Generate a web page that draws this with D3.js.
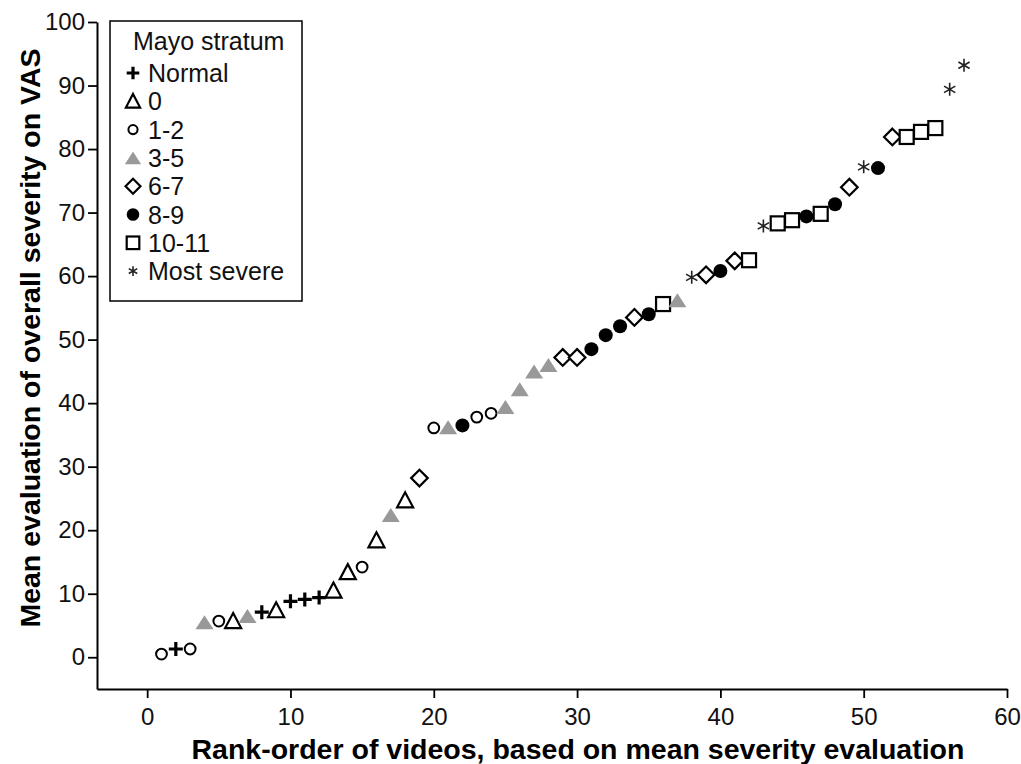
<!DOCTYPE html>
<html>
<head>
<meta charset="utf-8">
<script src="https://cdn.jsdelivr.net/npm/d3@7"></script>
<style>
  body { margin: 0; background: #fff; }
  svg { font-family: "Liberation Sans", Arial, sans-serif; }
</style>
</head>
<body>
<svg id="chart" width="1021" height="764"></svg>
<script>
// rank order of the videos and their mean VAS score
const ranks = d3.range(1, 58);
const vas = [0.5, 1.3, 1.3, 5.5, 5.7, 5.7, 6.5, 7.1, 7.4, 8.8,
             9.1, 9.4, 10.5, 13.4, 14.2, 18.4, 22.4, 24.7, 28.2, 36.1,
             36.2, 36.5, 37.8, 38.4, 39.4, 42.2, 45.0, 46.0, 47.2, 47.2,
             48.5, 50.7, 52.1, 53.5, 54.0, 55.6, 56.2, 59.8, 60.2, 60.8,
             62.4, 62.5, 67.9, 68.3, 68.8, 69.4, 69.8, 71.3, 74.0, 77.2,
             77.0, 81.9, 81.9, 82.7, 83.3, 89.4, 93.2];
// Mayo stratum of each video (same order)
const strata = ["1-2", "Normal", "1-2", "3-5", "1-2", "0", "3-5", "Normal", "0", "Normal",
                "Normal", "Normal", "0", "0", "1-2", "0", "3-5", "0", "6-7", "1-2",
                "3-5", "8-9", "1-2", "1-2", "3-5", "3-5", "3-5", "3-5", "6-7", "6-7",
                "8-9", "8-9", "8-9", "6-7", "8-9", "10-11", "3-5", "Most severe", "6-7", "8-9",
                "6-7", "10-11", "Most severe", "10-11", "10-11", "8-9", "10-11", "8-9", "6-7", "Most severe",
                "8-9", "6-7", "10-11", "10-11", "10-11", "Most severe", "Most severe"];
const legendLabels = ["Normal", "0", "1-2", "3-5", "6-7", "8-9", "10-11", "Most severe"];
const xTicks = [0, 10, 20, 30, 40, 50, 60];
const yTicks = [0, 10, 20, 30, 40, 50, 60, 70, 80, 90, 100];

const svg = d3.select("#chart");
const x = d3.scaleLinear().domain([-3.5, 60]).range([97, 1007]);
const y = d3.scaleLinear().domain([-5, 100]).range([689, 22]);

// axes
const xAxis = svg.append("g")
    .attr("transform", "translate(0," + y(-5) + ")")
    .call(d3.axisBottom(x).tickValues(xTicks).tickSize(9).tickSizeOuter(0).tickPadding(7));
const yAxis = svg.append("g")
    .attr("transform", "translate(" + x(-3.5) + ",0)")
    .call(d3.axisLeft(y).tickValues(yTicks).tickSize(9).tickSizeOuter(0).tickPadding(3));
[xAxis, yAxis].forEach(a => {
  a.select(".domain").attr("stroke", "#000").attr("stroke-width", 2);
  a.selectAll(".tick line").attr("stroke", "#000").attr("stroke-width", 1.8);
  a.selectAll(".tick text").attr("fill", "#111").attr("font-size", "24px")
   .attr("font-family", "Liberation Sans, Arial, sans-serif");
});
xAxis.selectAll(".tick text").attr("dy", "0.85em");

svg.append("text")
   .attr("x", 578).attr("y", 759)
   .attr("text-anchor", "middle")
   .attr("font-size", "28.5px").attr("font-weight", "bold")
   .text("Rank-order of videos, based on mean severity evaluation");
svg.append("text")
   .attr("transform", "translate(40,338) rotate(-90)")
   .attr("text-anchor", "middle")
   .attr("font-size", "28.5px").attr("font-weight", "bold")
   .text("Mean evaluation of overall severity on VAS");

// draw a marker for a stratum at given size factor
function marker(g, s, k) {
  if (s === "Normal") {
    const h = 7 * k;
    g.append("path").attr("d", `M${-h},0H${h}M0,${-h}V${h}`)
     .attr("stroke", "#000").attr("stroke-width", 3.2).attr("fill", "none");
  } else if (s === "0" || s === "3-5") {
    const w = 9 * k, h = 7 * k;
    const inset = s === "0" ? 1 : 0;
    g.append("path").attr("d", `M0,${-h - inset}L${w - inset},${h}L${-w + inset},${h}Z`)
     .attr("fill", s === "0" ? "#fff" : "#999")
     .attr("stroke", s === "0" ? "#000" : "none").attr("stroke-width", 2.2);
  } else if (s === "1-2") {
    g.append("circle").attr("r", 5.4 * k)
     .attr("fill", "#fff").attr("stroke", "#000").attr("stroke-width", 2);
  } else if (s === "8-9") {
    g.append("circle").attr("r", 7 * k).attr("fill", "#000");
  } else if (s === "6-7") {
    const h = 8.3 * k;
    g.append("path").attr("d", `M0,${-h}L${h},0L0,${h}L${-h},0Z`)
     .attr("fill", "#fff").attr("stroke", "#000").attr("stroke-width", 2.2);
  } else if (s === "10-11") {
    const h = 7 * k;
    g.append("rect").attr("x", -h).attr("y", -h).attr("width", 2 * h).attr("height", 2 * h)
     .attr("fill", "#fff").attr("stroke", "#000").attr("stroke-width", 2.2);
  } else {
    const h = 6.5 * k;
    const d = [90, 30, 150].map(a => {
      const r = a * Math.PI / 180;
      return `M${-h * Math.cos(r)},${-h * Math.sin(r)}L${h * Math.cos(r)},${h * Math.sin(r)}`;
    }).join("");
    g.append("path").attr("d", d).attr("stroke", "#222").attr("stroke-width", 1.6).attr("fill", "none");
  }
}

const pts = ranks.map((r, i) => ({ r, v: vas[i], s: strata[i] }));
svg.append("g").selectAll("g")
   .data(pts).enter().append("g")
   .attr("transform", d => "translate(" + x(d.r) + "," + y(d.v) + ")")
   .each(function (d) { marker(d3.select(this), d.s, 1); });

// legend
const lg = svg.append("g").attr("transform", "translate(110,21)");
lg.append("rect").attr("width", 192).attr("height", 280)
  .attr("fill", "#fff").attr("stroke", "#000").attr("stroke-width", 1.5);
lg.append("text").attr("x", 23).attr("y", 29).attr("font-size", "25px").attr("fill", "#111")
  .text("Mayo stratum");
legendLabels.forEach((l, i) => {
  const row = lg.append("g").attr("transform", "translate(23," + (52 + i * 28.3) + ")");
  const k = l === "Most severe" ? 0.75 : (l === "1-2" ? 0.85 : 0.9);
  marker(row, l, k);
  row.append("text").attr("x", 15).attr("y", 9).attr("font-size", "25px").attr("fill", "#111").text(l);
});
</script>
</body>
</html>
